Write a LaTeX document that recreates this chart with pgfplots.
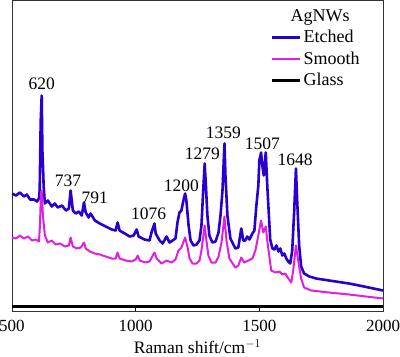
\documentclass[border=0pt]{standalone}
\usepackage{pgfplots}
\pgfplotsset{compat=1.18}
\usepackage{fontspec}
\setmainfont{Liberation Serif}
\usetikzlibrary{calc}
\definecolor{cEtched}{RGB}{40,0,210}
\definecolor{cSmooth}{RGB}{225,30,225}
\begin{document}
\fontsize{17.5}{20}\selectfont
\begin{tikzpicture}
\begin{axis}[name=ax,
  width=371pt, height=311pt, scale only axis,
  xmin=500, xmax=2000, ymin=0, ymax=311,
  axis line style={draw=black!80, line width=0.8pt},
  xtick={500,1000,1500,2000}, ytick=\empty,
  xtick pos=bottom, tick align=inside, major tick length=4pt,
  tick style={black, line width=0.8pt},
  /pgf/number format/assume math mode=true,
  /pgf/number format/1000 sep={},
  xticklabel style={font=\fontsize{17}{20}\selectfont, yshift=-3pt},
  xlabel={Raman shift/cm$^{-1}$},
  xlabel style={font=\fontsize{17.5}{20}\selectfont, yshift=4pt},
  clip=true,
  legend style={draw=none, fill=none, at={(0.695,0.982)}, anchor=north west,
    font=\fontsize{18}{20}\selectfont, row sep=2.3pt, inner sep=1pt},
  legend cell align=left,
  legend image code/.code={\draw[#1, line width=2.5pt] (0pt,0pt) -- (28pt,0pt);},
]
\addlegendimage{empty legend}
\addlegendentry{\hspace{-13pt}AgNWs}
\addplot[cEtched, line width=2.6pt, line join=round] coordinates {
(500,118)(516,116)(532,119)(548,115)(560,117)(573,112)(589,112)(601,110)(609,113)
(612,122)(616,190)(620,216)(623,160)(625,148)(628,125)(633,108)(645,111)(661,105)
(673,108)(685,104)(702,106)(718,101)(730,103)(737,121)(746,101)(758,98)(770,100)
(782,96)(791,109)(798,99)(810,94)(818,98)(835,91)(855,88)(879,85)(903,82)(919,81)
(927,89)(935,81)(956,78)(976,75)(992,76)(1004,82)(1012,75)(1036,72)(1056,71)
(1064,79)(1076,88)(1081,78)(1097,71)(1109,68)(1125,75)(1137,69)(1149,71)(1161,73)
(1169,89)(1177,99)(1185,101)(1193,111)(1200,118)(1205,111)(1214,86)(1222,71)
(1234,66)(1246,67)(1258,71)(1266,86)(1272,116)(1279,148)(1284,126)(1290,96)
(1298,76)(1310,69)(1323,70)(1335,79)(1343,96)(1351,121)(1359,168)(1363,136)
(1371,96)(1383,73)(1403,63)(1415,64)(1427,83)(1435,71)(1443,71)(1451,75)(1460,72)
(1472,78)(1480,81)(1488,106)(1496,126)(1500,151)(1507,159)(1512,146)(1518,136)
(1526,159)(1532,126)(1536,108)(1544,72)(1553,63)(1561,62)(1569,66)(1577,60)
(1585,63)(1593,56)(1601,58)(1609,53)(1617,50)(1625,48)(1633,61)(1641,101)
(1648,143)(1653,111)(1661,66)(1669,45)(1681,38)(1702,35)(1730,33)(1782,31)
(1863,28)(1923,25)(2000,21)
};
\addlegendentry{Etched}
\addplot[cSmooth, line width=2pt, line join=round] coordinates {
(500,74)(516,73)(532,76)(548,73)(565,75)(581,71)(597,72)(609,70)(613,86)(617,119)
(620,121)(625,96)(633,76)(645,69)(661,71)(677,67)(694,68)(714,65)(730,66)(737,74)
(746,65)(762,63)(778,64)(791,69)(798,63)(815,60)(835,58)(855,57)(879,55)(903,53)
(919,53)(927,59)(935,53)(960,51)(984,50)(1000,52)(1008,56)(1016,51)(1040,49)
(1056,50)(1076,59)(1085,53)(1105,48)(1125,51)(1145,49)(1161,52)(1173,61)(1185,64)
(1200,74)(1210,64)(1218,53)(1230,48)(1246,48)(1258,51)(1266,61)(1279,86)(1286,71)
(1294,56)(1306,49)(1323,49)(1335,55)(1347,69)(1359,95)(1367,71)(1379,53)(1403,44)
(1415,46)(1427,54)(1439,49)(1456,51)(1472,53)(1484,61)(1492,71)(1507,91)(1516,79)
(1526,85)(1532,71)(1540,56)(1548,41)(1565,39)(1581,40)(1593,37)(1605,38)(1617,33)
(1629,29)(1637,41)(1648,66)(1657,51)(1669,33)(1681,24)(1710,21)(1782,19)(1863,17)
(2000,13)
};
\addlegendentry{Smooth}
\addplot[black, line width=3pt] coordinates {(500,5)(2000,5)};
\addlegendentry{Glass}
\node at (axis cs:620,228) {620};
\node at (axis cs:726,131) {737};
\node at (axis cs:835,114) {791};
\node at (axis cs:1052,98) {1076};
\node at (axis cs:1185,126) {1200};
\node at (axis cs:1270,158) {1279};
\node at (axis cs:1355,179) {1359};
\node at (axis cs:1512,168) {1507};
\node at (axis cs:1645,152) {1648};
\end{axis}
\pgfresetboundingbox
\path ($(ax.south west)+(-12pt,-45pt)$) rectangle ($(ax.north east)+(17pt,0.5pt)$);
\end{tikzpicture}
\end{document}
